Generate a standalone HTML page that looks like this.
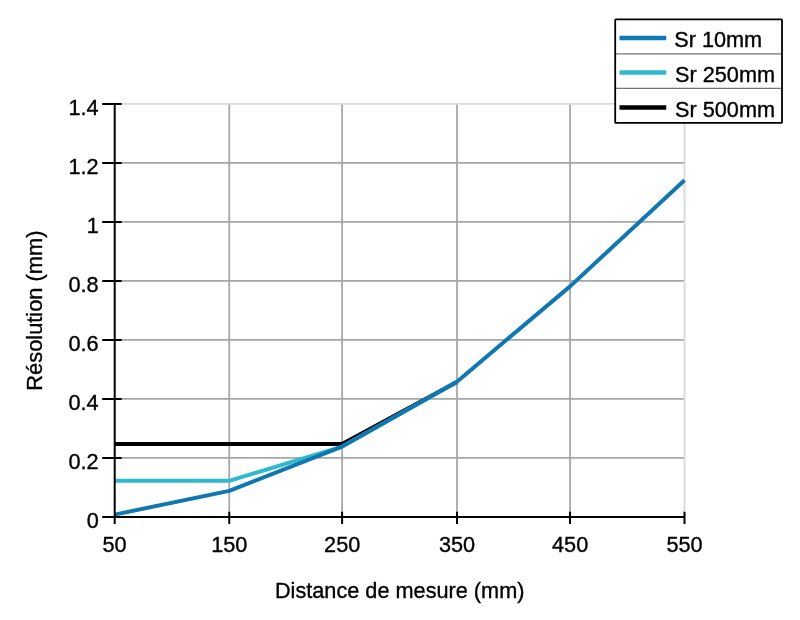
<!DOCTYPE html>
<html><head><meta charset="utf-8"><title>Résolution</title>
<style>
html,body{margin:0;padding:0;background:#fff;}
svg{display:block;}
text{font-family:"Liberation Sans",Arial,Helvetica,sans-serif;font-size:21.7px;fill:#000;stroke:#000;stroke-width:0.35;}
</style></head><body>
<svg width="800" height="620" viewBox="0 0 800 620">
<rect width="800" height="620" fill="#fff"/>
<g stroke="#a6a6a6" stroke-width="1.75" fill="none"><path d="M114.7 457.99H684.5M114.7 398.97H684.5M114.7 339.96H684.5M114.7 280.94H684.5M114.7 221.93H684.5M114.7 162.91H684.5M229.25 103.9V517M342.1 103.9V517M457 103.9V517M570.05 103.9V517"/></g>
<g stroke="#dadada" stroke-width="1.9" fill="none"><path d="M114.7 103.9H684.5V517"/></g>
<g fill="none" stroke-width="4" stroke-linejoin="round">
<polyline stroke="#000" points="114.7,443.93 342.1,443.93 457,381.97"/>
<polyline stroke="#30b8cf" points="114.7,480.82 229.25,480.82 342.1,446.59 457,381.67"/>
<polyline stroke="#1177b0" points="114.7,514.6 229.25,490.85 342.1,446.59 457,381.67 570.05,286.36 684.5,180.29"/>
</g>
<g stroke="#000" stroke-width="2" fill="none"><path d="M114.7 103V524M102.2 517H685.4M102.2 457.99H121.7M102.2 398.97H121.7M102.2 339.96H121.7M102.2 280.94H121.7M102.2 221.93H121.7M102.2 162.91H121.7M102.2 103.9H121.7M229.25 511.7V524M342.1 511.7V524M457 511.7V524M570.05 511.7V524M684.5 511.7V524"/></g>
<g text-anchor="end">
<text x="98.7" y="527.9">0</text>
<text x="98.7" y="468.89">0.2</text>
<text x="98.7" y="409.87">0.4</text>
<text x="98.7" y="350.86">0.6</text>
<text x="98.7" y="291.84">0.8</text>
<text x="98.7" y="232.83">1</text>
<text x="98.7" y="173.81">1.2</text>
<text x="98.7" y="114.8">1.4</text>
</g><g text-anchor="middle">
<text x="114.5" y="551.5">50</text>
<text x="229.35" y="551.5">150</text>
<text x="342.2" y="551.5">250</text>
<text x="457.1" y="551.5">350</text>
<text x="570.15" y="551.5">450</text>
<text x="684.6" y="551.5">550</text>
<text x="399.7" y="597.6">Distance de mesure (mm)</text>
<text transform="translate(42.4,310.6) rotate(-90)" style="font-size:21.85px">Résolution (mm)</text>
</g>
<rect x="615.2" y="19.3" width="166.8" height="103.6" fill="#fff" stroke="#000" stroke-width="1.8" rx="0.6"/>
<path d="M616 53.8H781.2M616 88.3H781.2" stroke="#757575" stroke-width="1.3"/>
<g stroke-width="4.6" fill="none">
<path d="M619.5 38H666.25" stroke="#0c7ab6"/>
<path d="M619.5 72.5H666.25" stroke="#30b8cf"/>
<path d="M619.5 107.5H666.25" stroke="#000"/>
</g>
<text x="674.2" y="46.8">Sr 10mm</text>
<text x="675" y="81.7">Sr 250mm</text>
<text x="675" y="116.7">Sr 500mm</text>
</svg>
</body></html>
